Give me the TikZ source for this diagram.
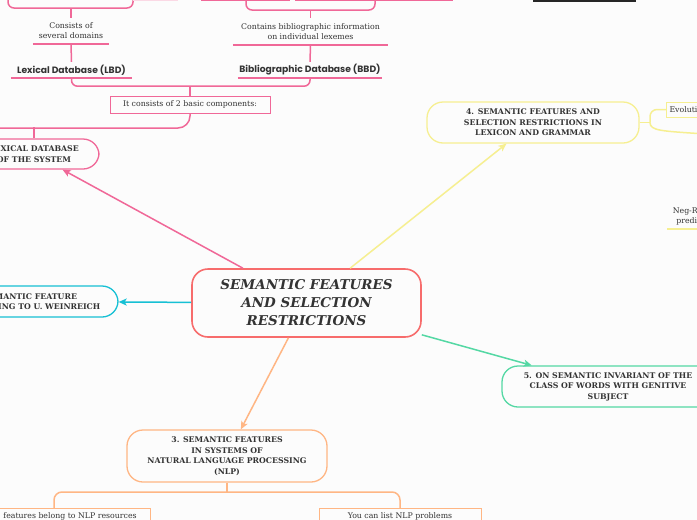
\documentclass[tikz,border=0pt]{standalone}
\usepackage{fontspec}
\usetikzlibrary{arrows.meta}
\setmainfont{DejaVu Serif}
\newfontfamily\lblfont{Poppins}
\definecolor{txt}{RGB}{51,51,51}
\definecolor{bgc}{RGB}{252,252,252}
\definecolor{mainc}{RGB}{247,108,108}
\definecolor{pinkc}{RGB}{240,104,152}
\definecolor{yellowc}{RGB}{246,239,145}
\definecolor{cyanc}{RGB}{22,192,212}
\definecolor{greenc}{RGB}{84,216,164}
\definecolor{orangec}{RGB}{255,182,132}
\begin{document}
\begin{tikzpicture}[
    x=1pt,y=-1pt,
    >={Stealth[length=8pt,width=7pt,inset=2pt]},
    topic/.style={draw,rounded corners=16pt,line width=1.3pt,align=center,inner sep=0pt,text=txt,
        font=\bfseries\fontsize{7.8}{10.5}\selectfont},
    sub/.style={draw,line width=1pt,align=center,inner sep=3pt,text=txt,font=\fontsize{7.8}{10}\selectfont},
    note/.style={align=center,inner sep=0pt,text=txt,font=\fontsize{7.8}{10}\selectfont},
    lbl/.style={inner sep=0pt,text=txt,font=\lblfont\bfseries\fontsize{9.2}{10}\selectfont},
    conn/.style={line width=1.5pt}
]
\useasboundingbox (0,0) rectangle (697,520);
\clip (0,0) rectangle (697,520);
\fill[bgc] (0,0) rectangle (697,520);

\node[topic,draw=mainc,line width=1.6pt,minimum width=229pt,minimum height=68pt,
    font=\bfseries\itshape\fontsize{13.5}{18}\selectfont] (main) at (306.5,303) {SEMANTIC FEATURES\\AND SELECTION\\RESTRICTIONS};
\node[topic,draw=pinkc,minimum width=130pt,minimum height=30pt] (lexdb) at (34,154) {LEXICAL DATABASE\\OF THE SYSTEM};
\node[topic,draw=cyanc,minimum width=176pt,minimum height=31pt] (weinr) at (30,301.5) {SEMANTIC FEATURE\\ACCORDING TO U. WEINREICH};
\node[topic,draw=yellowc,minimum width=212pt,minimum height=41pt] (lexgram) at (533,122.5) {4. SEMANTIC FEATURES AND\\SELECTION RESTRICTIONS IN\\LEXICON AND GRAMMAR};
\node[topic,draw=greenc,minimum width=212pt,minimum height=41pt] (invar) at (608,386.5) {5. ON SEMANTIC INVARIANT OF THE\\CLASS OF WORDS WITH GENITIVE\\SUBJECT};
\node[topic,draw=orangec,minimum width=200pt,minimum height=52pt] (nlp) at (227,456) {3. SEMANTIC FEATURES\\IN SYSTEMS OF\\NATURAL LANGUAGE PROCESSING\\(NLP)};

\node[sub,draw=pinkc,minimum width=160pt,minimum height=17pt,inner sep=0pt] (basic) at (190,104.5) {It consists of 2 basic components:};
\node[sub,draw=yellowc,anchor=west,minimum height=15pt,text width=60pt,align=left] (evol) at (666,109.5) {Evolution};
\node[sub,draw=orangec,anchor=north,minimum width=160pt,inner sep=4pt] (nlpl) at (70,508) {features belong to NLP resources};
\node[sub,draw=orangec,anchor=north,minimum width=162pt,inner sep=4pt] (nlpr) at (400,508) {You can list NLP problems};

\node[note,minimum width=76pt,minimum height=26pt] (cons) at (71,31) {Consists of\\several domains};
\node[note,minimum width=155pt,minimum height=27pt] (contains) at (310.5,31.5) {Contains bibliographic information\\on individual lexemes};
\node[lbl,minimum width=121pt,minimum height=16pt] (lbd) at (71.5,70) {Lexical Database (LBD)};
\node[lbl,minimum width=144pt,minimum height=16pt] (bbd) at (310,70) {Bibliographic Database (BBD)};
\node[note,anchor=south west,minimum width=60pt,minimum height=24pt] (negr) at (667,229) {Neg-Raising\\predicates};

\coordinate (tl1) at (8,-6);
\coordinate (tl2) at (133,-6);
\coordinate (tr1) at (246,-6);
\coordinate (tr2) at (375,-6);
\coordinate (offl) at (-10,128);
\coordinate (ysplit) at (650,122.5);
\coordinate (yoff) at (705,134);

\draw[conn,pinkc] (cons.south west) -- (cons.south east);
\draw[conn,pinkc] (contains.south west) -- (contains.south east);
\draw[conn,pinkc] (lbd.south west) -- (lbd.south east);
\draw[conn,pinkc] (bbd.south west) -- (bbd.south east);
\draw[conn,yellowc] (negr.south west) -- (negr.south east);

\draw[conn,pinkc] (lbd.north) -- (cons.south);
\draw[conn,pinkc] (bbd.north) -- (contains.south);
\draw[conn,pinkc] (cons.north) -- ++(0,-10);
\draw[conn,pinkc] (contains.north) -- ++(0,-8);
\draw[conn,pinkc,rounded corners=6pt] (tl1) -- ++(0,14) -| (tl2);
\draw[conn,pinkc,rounded corners=6pt] (tr1) -- ++(0,16) -| (tr2);
\draw[conn,pinkc,rounded corners=6pt] (lbd.south) -- ++(0,8) -| (bbd.south);
\draw[conn,pinkc] (basic.north) -- ++(0,-10);
\draw[conn,pinkc] (lexdb.north) -- ++(0,-11);
\draw[conn,pinkc,rounded corners=12pt] (offl) -| (basic.south);
\draw[conn,pinkc] (201,0.5) -- (290,0.5);
\draw[conn,pinkc] (295,0.5) -- (453,0.5);
\draw[conn,pinkc!25] (133,0.5) -- (178,0.5);
\fill[black!85] (533,-2) rectangle (636,2);

\draw[conn,yellowc] (lexgram.east) -- (ysplit);
\draw[conn,yellowc,rounded corners=7pt] (ysplit) |- (evol.west);
\draw[conn,yellowc] (ysplit) .. controls (650,131) and (662,131) .. (yoff);

\draw[conn,orangec] (nlp.south) -- ++(0,10);
\draw[conn,orangec,rounded corners=8pt] ([xshift=-16pt]nlpl.north) -- ++(0,-16) -| (nlpr.north);

\draw[->,conn,pinkc] (main) -- (lexdb);
\draw[->,conn,yellowc] (main) -- (lexgram);
\draw[->,conn,cyanc] (main) -- (weinr);
\draw[->,conn,greenc] (main) -- (invar);
\draw[->,conn,orangec] (main) -- (nlp);
\end{tikzpicture}
\end{document}
